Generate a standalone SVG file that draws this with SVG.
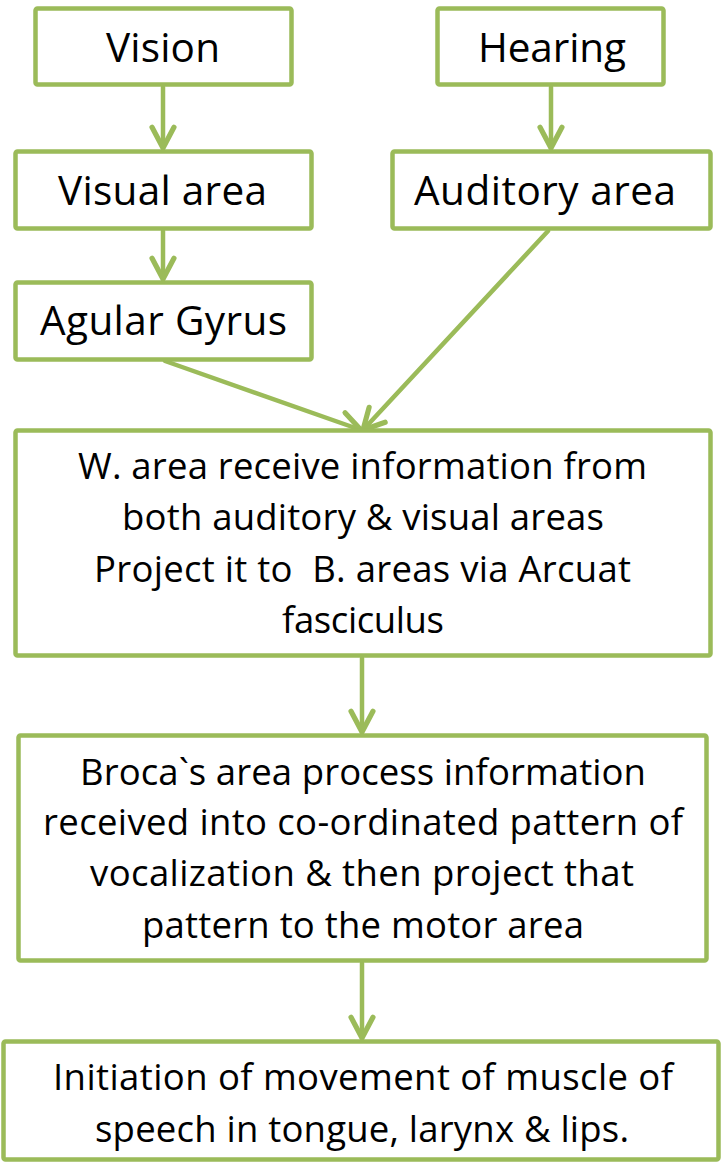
<svg xmlns="http://www.w3.org/2000/svg" width="722" height="1163" viewBox="0 0 722 1163">
<style>
.box{fill:#ffffff;stroke:#9BBB59;stroke-width:4.5;stroke-linejoin:round}
.con{fill:none;stroke:#9BBB59;stroke-width:4.5;stroke-linecap:round}
.t{font-family:"Open Sans","Noto Sans",sans-serif;fill:#000000;text-anchor:middle}
.big{font-size:40.5px}
.mid{font-size:36.5px}
</style>
<defs>
<marker id="arr" markerUnits="userSpaceOnUse" markerWidth="30" markerHeight="30" viewBox="-22 -13 26 26" refX="0" refY="0" orient="auto">
<path d="M-18,-9.5 L0,0 L-18,9.5" fill="none" stroke="#9BBB59" stroke-width="4.5" stroke-linecap="round" stroke-linejoin="round"/>
</marker>
</defs>
<rect width="722" height="1163" fill="#ffffff"/>
<g id="connectors">
<line class="con" x1="163" y1="87" x2="163" y2="148" marker-end="url(#arr)"/>
<line class="con" x1="163" y1="231" x2="163" y2="279" marker-end="url(#arr)"/>
<line class="con" x1="551" y1="87" x2="551" y2="148" marker-end="url(#arr)"/>
<line class="con" x1="165" y1="361" x2="361" y2="430" marker-end="url(#arr)"/>
<line class="con" x1="548" y1="231" x2="363" y2="430" marker-end="url(#arr)"/>
<line class="con" x1="362" y1="658" x2="362" y2="732" marker-end="url(#arr)"/>
<line class="con" x1="362" y1="963" x2="362" y2="1038" marker-end="url(#arr)"/>
</g>
<g id="vision">
<rect class="box" x="35.5" y="8.5" width="256" height="76" rx="2"/>
<text class="t big" x="163" y="62" textLength="114">Vision</text>
</g>
<g id="hearing">
<rect class="box" x="437.5" y="8.5" width="226" height="76" rx="2"/>
<text class="t big" x="552" y="62" textLength="148">Hearing</text>
</g>
<g id="visual-area">
<rect class="box" x="15.5" y="151.5" width="296" height="77" rx="2"/>
<text class="t big" x="162.5" y="205" textLength="209">Visual area</text>
</g>
<g id="auditory-area">
<rect class="box" x="392.5" y="151.5" width="318" height="77" rx="2"/>
<text class="t big" x="545" y="205" textLength="262">Auditory area</text>
</g>
<g id="agular-gyrus">
<rect class="box" x="15.5" y="282.5" width="296" height="77" rx="2"/>
<text class="t big" x="163.5" y="335" textLength="247">Agular Gyrus</text>
</g>
<g id="wernicke">
<rect class="box" x="15.5" y="430.5" width="695" height="225" rx="2"/>
<text class="t mid" x="362.5" y="479" textLength="569">W. area receive information from</text>
<text class="t mid" x="363" y="530" textLength="482">both auditory &amp; visual areas</text>
<text class="t mid" x="362.5" y="582" textLength="537" xml:space="preserve">Project it to  B. areas via Arcuat</text>
<text class="t mid" x="363" y="633" textLength="162">fasciculus</text>
</g>
<g id="broca">
<rect class="box" x="18.5" y="735.5" width="688" height="225" rx="2"/>
<text class="t mid" x="363" y="785" textLength="566">Broca`s area process information</text>
<text class="t mid" x="363" y="835" textLength="640">received into co-ordinated pattern of</text>
<text class="t mid" x="362" y="886" textLength="544">vocalization &amp; then project that</text>
<text class="t mid" x="363" y="938" textLength="442">pattern to the motor area</text>
</g>
<g id="initiation">
<rect class="box" x="3.5" y="1041.5" width="715" height="118" rx="2"/>
<text class="t mid" x="363" y="1090" textLength="620">Initiation of movement of muscle of</text>
<text class="t mid" x="362" y="1142" textLength="534">speech in tongue, larynx &amp; lips.</text>
</g>
</svg>
